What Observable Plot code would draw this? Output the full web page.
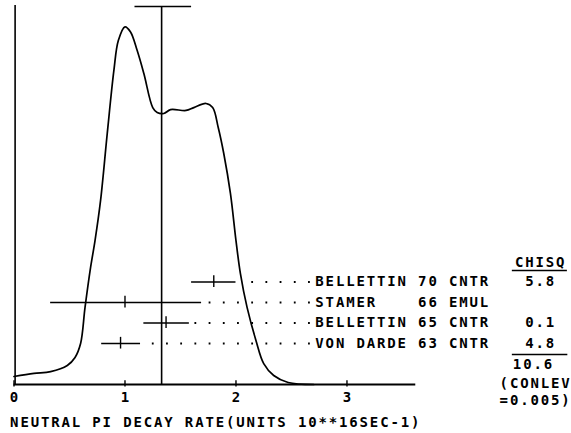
<!DOCTYPE html>
<html>
<head>
<meta charset="utf-8">
<script src="https://cdn.jsdelivr.net/npm/d3@7"></script>
<script src="https://cdn.jsdelivr.net/npm/@observablehq/plot@0.6"></script>
<style>
  html, body { margin: 0; padding: 0; background: white; }
  svg text { white-space: pre; }
</style>
</head>
<body>
<div id="chart"></div>
<script>
// Ideogram curve (x = rate in 10**16 s^-1, y = relative height)
const curveX = [0.00, 0.18, 0.33, 0.48, 0.55, 0.60, 0.64, 0.69, 0.73, 0.78, 0.84, 0.90, 0.94, 1.00, 1.05, 1.11, 1.17, 1.25, 1.29, 1.35, 1.41, 1.55, 1.62, 1.73, 1.79, 1.84, 1.89, 1.95, 2.00, 2.04, 2.10, 2.18, 2.25, 2.34, 2.47, 2.70];
const curveY = [0.39, 0.54, 0.63, 0.93, 1.32, 2.00, 3.76, 5.71, 7.02, 8.98, 12.24, 15.32, 16.78, 17.45, 17.20, 16.29, 15.17, 13.51, 13.27, 13.22, 13.41, 13.37, 13.51, 13.71, 13.51, 12.54, 11.27, 9.32, 7.02, 5.41, 3.76, 2.15, 1.02, 0.44, 0.10, 0.00];

// Measurements
const labels = ["BELLETTIN 70 CNTR", "STAMER\u00A0\u00A0\u00A0\u00A066 EMUL", "BELLETTIN 65 CNTR", "VON DARDE 63 CNTR"];
const values = [1.80, 1.00, 1.37, 0.96];
const lows   = [1.60, 0.33, 1.17, 0.79];
const highs  = [2.00, 1.69, 1.58, 1.14];
const rows   = [5, 4, 3, 2];
const chisq  = ["5.8", "", "0.1", "4.8"];

// Weighted average and its error
const average = 1.33;
const avgLow = 1.09;
const avgHigh = 1.60;
const chisqTotal = "10.6";
const conlev = ["(CONLEV", "=0.005)"];

// Axis
const xTicks = [0, 1, 2, 3];
const xTitle = "NEUTRAL PI DECAY RATE(UNITS 10**16SEC-1)";

const meas = labels.map((l, i) => ({label: l, value: values[i], low: lows[i], high: highs[i], row: rows[i], chisq: chisq[i]}));
const curve = curveX.map((x, i) => ({x, y: curveY[i]}));

const XMAX = 3.64, YMAX = 18.49;
const LABEL_X = 2.715, LEAD_X = 2.67, CHI_X = 4.745;

const chart = Plot.plot({
  width: 571,
  height: 433,
  marginLeft: 13.5,
  marginRight: 153.5,
  marginTop: 5,
  marginBottom: 49,
  x: {domain: [0, XMAX], axis: null},
  y: {domain: [0, YMAX], axis: null},
  style: {fontFamily: "'DejaVu Sans Mono', monospace", fontSize: "14px", fontWeight: "bold", background: "white", color: "black", letterSpacing: "1.85px", overflow: "visible"},
  marks: [
    // frame lines
    Plot.ruleY([0], {x1: 0, x2: 3.62, stroke: "black", strokeWidth: 1.8}),
    Plot.ruleX([0.01], {y1: 0, y2: YMAX, stroke: "black", strokeWidth: 1.6}),
    Plot.ruleX(xTicks, {y1: -0.12, y2: 0.18, stroke: "black", strokeWidth: 1.4}),
    Plot.text(xTicks, {x: d => d, y: -0.63, text: d => String(d), textAnchor: "middle", dx: 1}),
    // ideogram
    Plot.line(curve, {x: "x", y: "y", curve: "catmull-rom", stroke: "black", strokeWidth: 1.7}),
    // weighted average
    Plot.ruleX([average], {y1: 0, y2: YMAX - 0.05, stroke: "black", strokeWidth: 1.6}),
    Plot.ruleY([YMAX - 0.05], {x1: avgLow, x2: avgHigh, stroke: "black", strokeWidth: 1.6}),
    // measurement error bars
    Plot.ruleY(meas, {y: "row", x1: "low", x2: "high", stroke: "black", strokeWidth: 1.6}),
    Plot.ruleX(meas, {x: "value", y1: d => d.row - 0.27, y2: d => d.row + 0.3, stroke: "black", strokeWidth: 1.4}),
    // dotted leaders (drawn right to left so dots align in columns)
    Plot.ruleY(meas, {y: "row", x1: LEAD_X, x2: d => d.high + 0.05, stroke: "black", strokeWidth: 1.8, strokeDasharray: "1.8,12.4"}),
    // labels
    Plot.text(meas, {x: LABEL_X, y: "row", text: "label", textAnchor: "start"}),
    // chi-square column
    Plot.text(["CHISQ"], {x: CHI_X, y: 5.95, text: d => d, textAnchor: "middle"}),
    Plot.ruleY([5.56], {x1: 4.49, x2: 4.986, stroke: "black", strokeWidth: 1.5}),
    Plot.text(meas, {x: CHI_X, y: "row", text: "chisq", textAnchor: "middle"}),
    Plot.ruleY([1.46], {x1: 4.49, x2: 4.99, stroke: "black", strokeWidth: 1.5}),
    Plot.text([chisqTotal], {x: 4.68, y: 0.98, text: d => d, textAnchor: "middle"}),
    Plot.text(conlev, {x: 5.01, y: (d, i) => [0.05, -0.78][i], text: d => d, textAnchor: "end", dx: 1.5}),
    // axis title
    Plot.text([xTitle], {x: -0.035, y: -1.85, text: d => d, textAnchor: "start"})
  ]
});
document.getElementById("chart").appendChild(chart);
</script>
</body>
</html>
